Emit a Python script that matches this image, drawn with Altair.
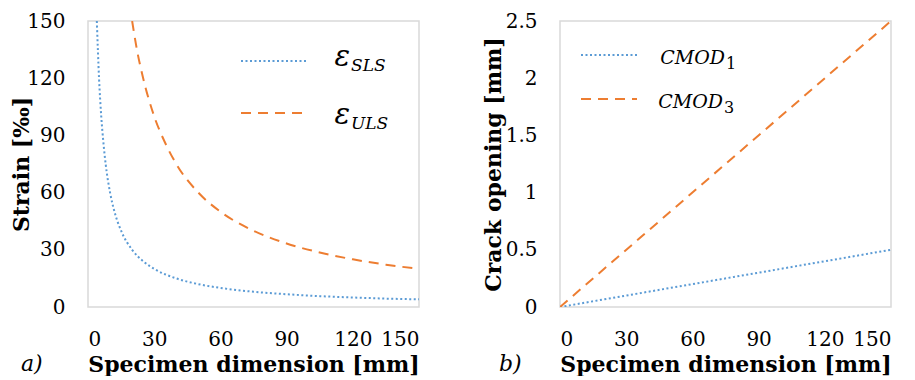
import altair as alt
import pandas as pd

# ---- data ----
sls_x = [4, 5, 6, 7, 8, 10, 12, 15, 20, 25, 30, 40, 50, 60, 75, 90, 105, 120, 135, 150]
sls_y = [150, 120, 100, 86, 75, 60, 50, 40, 30, 24, 20, 15, 12, 10, 8, 6.7, 5.7, 5, 4.4, 4]
uls_x = [20, 22, 25, 30, 35, 40, 50, 60, 75, 90, 105, 120, 135, 150]
uls_y = [150, 136, 120, 100, 86, 75, 60, 50, 40, 33.3, 28.6, 25, 22.2, 20]
cmod_x = [0, 150]
cmod1_y = [0, 0.5]
cmod3_y = [0, 2.5]
x_ticks = [0, 30, 60, 90, 120, 150]
strain_ticks = [0, 30, 60, 90, 120, 150]
cmod_ticks = [0, 0.5, 1, 1.5, 2, 2.5]

BLUE = "#5B9BD5"
ORANGE = "#ED7D31"
FONT = "DejaVu Serif"
W, H = 331, 286

sls = pd.DataFrame({"x": sls_x, "y": sls_y})
uls = pd.DataFrame({"x": uls_x, "y": uls_y})
c1 = pd.DataFrame({"x": cmod_x, "y": cmod1_y})
c3 = pd.DataFrame({"x": cmod_x, "y": cmod3_y})

xenc = alt.X("x:Q", scale=alt.Scale(domain=[0, 150], nice=False),
             axis=alt.Axis(values=x_ticks, title="Specimen dimension [mm]",
                           labelPadding=22, titlePadding=5))


def yenc(title, dom, ticks, fmt, tpad):
    return alt.Y("y:Q", scale=alt.Scale(domain=dom, nice=False),
                 axis=alt.Axis(values=ticks, title=title, format=fmt,
                               labelPadding=23, titlePadding=tpad))


def leg_line(x1, x2, y, color, dash):
    return alt.Chart(pd.DataFrame({"a": [0]})).mark_rule(
        color=color, strokeWidth=2, strokeDash=dash
    ).encode(x=alt.value(x1), x2=alt.value(x2), y=alt.value(y))


def txt(x, y, s, size, align="left", italic=True):
    return alt.Chart(pd.DataFrame({"a": [0]})).mark_text(
        text=s, font=FONT, fontSize=size, align=align, baseline="alphabetic",
        fontStyle="italic" if italic else "normal", color="black"
    ).encode(x=alt.value(x), y=alt.value(y))


DOT = [2, 2.5]
DASH = [10, 7]

left = alt.layer(
    alt.Chart(sls).mark_line(color=BLUE, strokeWidth=2, strokeDash=DOT, clip=True,
                             interpolate="monotone").encode(
        x=xenc, y=yenc("Strain [‰]", [0, 150], strain_ticks, "d", -7)),
    alt.Chart(uls).mark_line(color=ORANGE, strokeWidth=2, strokeDash=DASH, clip=True,
                             interpolate="monotone").encode(x="x:Q", y="y:Q"),
    leg_line(153, 218, 40, BLUE, DOT),
    leg_line(153, 218, 92, ORANGE, DASH),
    txt(262, 45, "ε", 29, align="right"),
    txt(263, 50, "SLS", 17),
    txt(262, 103, "ε", 29, align="right"),
    txt(263, 108, "ULS", 17),
    txt(-67, 350, "a)", 22),
).properties(width=W, height=H)

right = alt.layer(
    alt.Chart(c1).mark_line(color=BLUE, strokeWidth=2, strokeDash=DOT, clip=True).encode(
        x=xenc, y=yenc("Crack opening [mm]", [0, 2.5], cmod_ticks, "", 0)),
    alt.Chart(c3).mark_line(color=ORANGE, strokeWidth=2, strokeDash=DASH, clip=True).encode(
        x="x:Q", y="y:Q"),
    leg_line(21, 77, 34, BLUE, DOT),
    leg_line(21, 77, 78, ORANGE, DASH),
    txt(165, 43, "CMOD", 19, align="right"),
    txt(166, 48, "1", 16, italic=False),
    txt(163, 87, "CMOD", 19, align="right"),
    txt(164, 92, "3", 16, italic=False),
    txt(-61, 350, "b)", 22),
).properties(width=W, height=H)

chart = alt.hconcat(left, right, spacing=61).configure_view(
    stroke="#d9d9d9", strokeWidth=1.5
).configure_axis(
    domain=False, ticks=False, grid=False,
    labelFont=FONT, labelFontSize=20, labelColor="black",
    titleFont=FONT, titleFontSize=22, titleFontWeight="bold", titleColor="black",
).properties(background="white", padding={"left": 2, "top": 2, "right": 5, "bottom": 0})

chart.save("out.html", embed_options={"renderer": "svg", "actions": False})
